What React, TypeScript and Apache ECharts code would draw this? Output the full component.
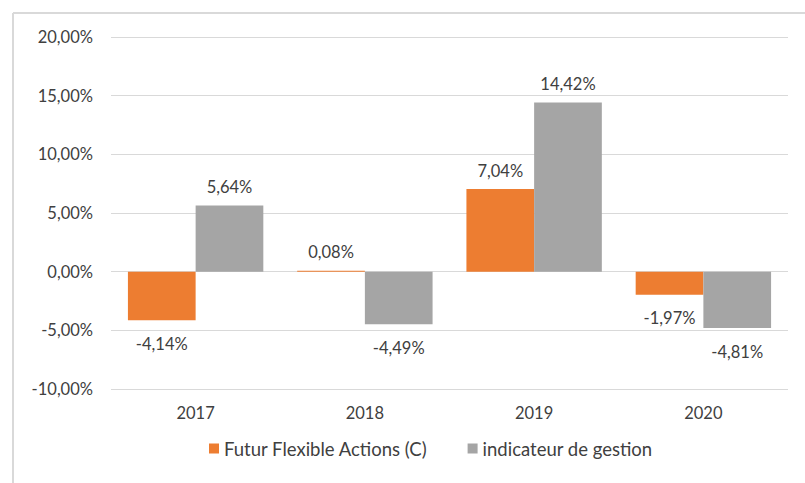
import React, { useEffect, useRef } from "react";
import * as echarts from "echarts";

const categories = ["2017", "2018", "2019", "2020"];
const fundName = "Futur Flexible Actions (C)";
const indicatorName = "indicateur de gestion";
const fundValues = [-4.14, 0.08, 7.04, -1.97];
const indicatorValues = [5.64, -4.49, 14.42, -4.81];
const yMin = -10;
const yMax = 20;
const yStep = 5;

const FONT = "Lato, 'Open Sans', sans-serif";
const TEXT = "#404040";

const fmt = (v: number) => v.toFixed(2).replace(".", ",") + "%";

const toData = (vals: number[]) =>
  vals.map((v) => ({
    value: v,
    label: v >= 0 ? { position: "top", distance: 10 } : { position: "bottom", distance: 15 },
  }));

export default function App() {
  const ref = useRef<HTMLDivElement>(null);
  useEffect(() => {
    if (!ref.current) return;
    const chart = echarts.init(ref.current, undefined, { renderer: "svg" });
    const labelStyle = {
      show: true,
      fontFamily: FONT,
      fontSize: 16.5,
      color: TEXT,
      formatter: (p: any) => fmt(p.value),
    };
    chart.setOption({
      animation: false,
      backgroundColor: "#ffffff",
      grid: { left: 111, right: 17, top: 37, bottom: 94, containLabel: false },
      legend: {
        bottom: 20,
        left: 204,
        icon: "rect",
        itemWidth: 10,
        itemHeight: 10,
        itemGap: 40,
        itemTextGap: 5,
        textStyle: { fontFamily: FONT, fontSize: 18.5, color: TEXT },
        data: [fundName, indicatorName],
      },
      xAxis: {
        type: "category",
        data: categories,
        axisLine: { show: false, onZero: false },
        axisTick: { show: false },
        axisLabel: { margin: 15, fontFamily: FONT, fontSize: 16.5, color: TEXT },
      },
      yAxis: {
        type: "value",
        min: yMin,
        max: yMax,
        interval: yStep,
        axisLine: { show: false },
        axisTick: { show: false },
        splitLine: { lineStyle: { color: "#d9d9d9", width: 1 } },
        axisLabel: {
          margin: 18,
          fontFamily: FONT,
          fontSize: 16.5,
          color: TEXT,
          formatter: (v: number) => fmt(v),
        },
      },
      series: [
        {
          name: fundName,
          type: "bar",
          data: toData(fundValues),
          itemStyle: { color: "#ED7D31" },
          barGap: "0%",
          barCategoryGap: "20%",
          label: labelStyle,
        },
        {
          name: indicatorName,
          type: "bar",
          data: toData(indicatorValues),
          itemStyle: { color: "#A5A5A5" },
          barGap: "0%",
          barCategoryGap: "20%",
          label: labelStyle,
        },
      ],
      graphic: [
        {
          type: "line",
          shape: { x1: 13, y1: 13, x2: 805, y2: 13 },
          style: { stroke: "#d9d9d9", lineWidth: 2 },
        },
        {
          type: "line",
          shape: { x1: 13, y1: 13, x2: 13, y2: 483 },
          style: { stroke: "#d9d9d9", lineWidth: 2 },
        },
      ],
    });
    return () => chart.dispose();
  }, []);
  return (
    <div
      ref={ref}
      style={{ position: "fixed", left: 0, top: 0, width: 805, height: 483 }}
    />
  );
}
